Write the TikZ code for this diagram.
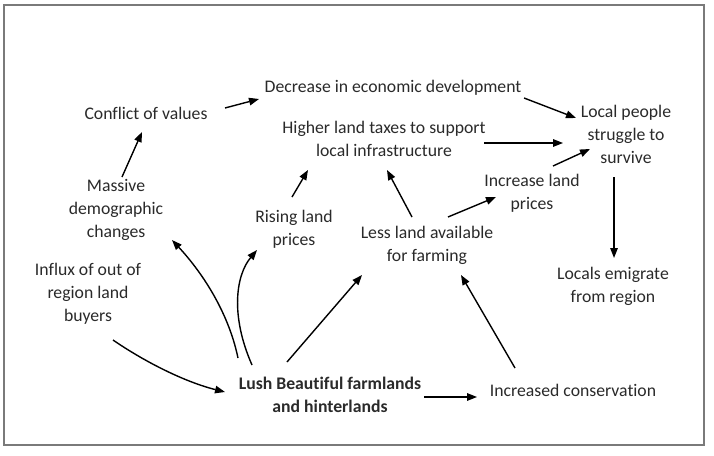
\documentclass[tikz,border=0pt]{standalone}
\usepackage{fontspec}
\setmainfont{Carlito}[Ligatures={NoCommon}]
\usetikzlibrary{calc,arrows.meta}
\definecolor{txt}{HTML}{2A2A2A}
\definecolor{framec}{HTML}{7A7A7A}
\begin{document}
\begin{tikzpicture}[x=1pt,y=-1pt,
  lbl/.style={font=\fontsize{17.7}{23}\selectfont, text=txt, align=center, inner sep=0pt},
  arr/.style={draw=black, line width=1.4pt, -{Triangle[length=10pt,width=7.5pt]}},
  framebox/.style={draw=framec, line width=2pt}]
\useasboundingbox (0,0) rectangle (714,455);
\fill[white] (0,0) rectangle (714,455);
\draw[framebox] (4,5) rectangle (704,445);
% nodes
\node[lbl] (conf) at (146,113) {Conflict of values};
\node[lbl] (dec) at (393,88) {Decrease in economic development};
\node[lbl] (tax) at (384,139) {Higher land taxes to support\\local infrastructure};
\node[lbl] (loc) at (626,134) {Local people\\struggle to\\survive};
\node[lbl] (mass) at (116,210) {Massive\\demographic\\changes};
\node[lbl] (rise) at (294,229) {Rising land\\prices};
\node[lbl] (less) at (427,245) {Less land available\\for farming};
\node[lbl] (incp) at (532,193) {Increase land\\prices};
\node[lbl] (emig) at (613,286) {Locals emigrate\\from region};
\node[lbl] (infl) at (88,294) {Influx of out of\\region land\\buyers};
\node[lbl, font=\fontsize{17.7}{23}\selectfont\bfseries] (lush) at (330,395) {Lush Beautiful farmlands\\and hinterlands};
\node[lbl] (cons) at (573,390) {Increased conservation};
% connectors
\draw[arr] ($(conf)+(79,-5)$) -- ($(dec)+(-134,11)$);
\draw[arr] ($(dec)+(131,10)$) -- ($(loc)+(-50,-16)$);
\draw[arr] ($(tax)+(100,4)$) -- ($(loc)+(-63,9)$);
\draw[arr] ($(incp)+(21,-27)$) -- ($(loc)+(-36,15)$);
\draw[arr] ($(loc)+(-12,43)$) -- ($(emig)+(1,-28)$);
\draw[arr] ($(less)+(21,-28)$) -- ($(incp)+(-36,4)$);
\draw[arr] ($(less)+(-15,-28)$) -- ($(tax)+(3,31)$);
\draw[arr] ($(mass)+(6,-33)$) -- ($(conf)+(-4,19)$);
\draw[arr] ($(rise)+(-2,-32)$) -- ($(tax)+(-76,31)$);
\draw[arr] ($(lush)+(-92,-37)$) .. controls ($(lush)+(-102,-85)$) and ($(lush)+(-130,-125)$) .. ($(mass)+(56,30)$);
\draw[arr] ($(lush)+(-78,-30)$) .. controls ($(lush)+(-100,-80)$) and ($(lush)+(-94,-120)$) .. ($(rise)+(-37,21)$);
\draw[arr] ($(lush)+(-43,-33)$) -- ($(less)+(-65,30)$);
\draw[arr] ($(infl)+(25,46)$) .. controls ($(infl)+(57,68)$) and ($(infl)+(97,88)$) .. ($(lush)+(-105,-3)$);
\draw[arr] ($(lush)+(94,2)$) -- ($(cons)+(-96,7)$);
\draw[arr] ($(cons)+(-58,-22)$) -- ($(less)+(34,30)$);
\end{tikzpicture}
\end{document}
